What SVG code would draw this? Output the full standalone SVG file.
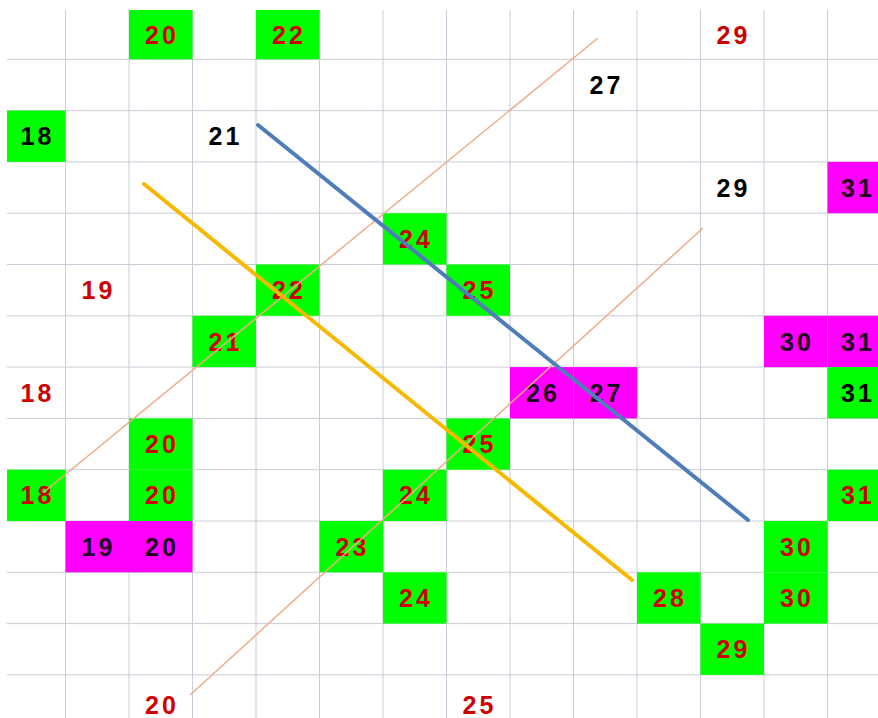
<svg xmlns="http://www.w3.org/2000/svg" width="878" height="718" viewBox="0 0 878 718">
<style>
.grid line{stroke:#c9ccd8;stroke-width:1}
.g{fill:#00ff00}
.m{fill:#ff00ff}
text{font-family:"Liberation Sans",Arial,sans-serif;font-size:25px;font-weight:bold;letter-spacing:3px;text-anchor:middle}
.r{fill:#d00000}
.k{fill:#000000}
.p{fill:#1e001e}
.blue{stroke:#4f7dba;stroke-width:4;stroke-linecap:round;fill:none}
.gold{stroke:#f7b900;stroke-width:4;stroke-linecap:round;fill:none}
.thin{stroke:#eeac84;stroke-width:1.5;fill:none}
</style>
<rect width="878" height="718" fill="#ffffff"/>
<g class="grid">
<line x1="65.5" y1="10" x2="65.5" y2="718"/>
<line x1="129" y1="10" x2="129" y2="718"/>
<line x1="192.5" y1="10" x2="192.5" y2="718"/>
<line x1="256" y1="10" x2="256" y2="718"/>
<line x1="319.5" y1="10" x2="319.5" y2="718"/>
<line x1="383" y1="10" x2="383" y2="718"/>
<line x1="446.5" y1="10" x2="446.5" y2="718"/>
<line x1="510" y1="10" x2="510" y2="718"/>
<line x1="573.5" y1="10" x2="573.5" y2="718"/>
<line x1="637" y1="10" x2="637" y2="718"/>
<line x1="700.5" y1="10" x2="700.5" y2="718"/>
<line x1="764" y1="10" x2="764" y2="718"/>
<line x1="827.5" y1="10" x2="827.5" y2="718"/>
<line x1="7" y1="59.3" x2="878" y2="59.3"/>
<line x1="7" y1="110.6" x2="878" y2="110.6"/>
<line x1="7" y1="161.9" x2="878" y2="161.9"/>
<line x1="7" y1="213.2" x2="878" y2="213.2"/>
<line x1="7" y1="264.5" x2="878" y2="264.5"/>
<line x1="7" y1="315.8" x2="878" y2="315.8"/>
<line x1="7" y1="367.1" x2="878" y2="367.1"/>
<line x1="7" y1="418.4" x2="878" y2="418.4"/>
<line x1="7" y1="469.7" x2="878" y2="469.7"/>
<line x1="7" y1="521" x2="878" y2="521"/>
<line x1="7" y1="572.3" x2="878" y2="572.3"/>
<line x1="7" y1="623.6" x2="878" y2="623.6"/>
<line x1="7" y1="674.9" x2="878" y2="674.9"/>
</g>
<g id="c-r0-c2"><rect class="g" x="129" y="10" width="63.5" height="49.3"/><text class="r" x="162" y="44">20</text></g>
<g id="c-r0-c4"><rect class="g" x="256" y="10" width="63.5" height="49.3"/><text class="r" x="289" y="44">22</text></g>
<g id="c-r0-c11"><text class="r" x="733.5" y="44">29</text></g>
<g id="c-r1-c9"><text class="k" x="606.5" y="94">27</text></g>
<g id="c-r2-c0"><rect class="g" x="7" y="110.6" width="58.5" height="51.3"/><text class="k" x="37.5" y="145.3">18</text></g>
<g id="c-r2-c3"><text class="k" x="225.5" y="145.3">21</text></g>
<g id="c-r3-c11"><text class="k" x="733.5" y="196.6">29</text></g>
<g id="c-r3-c13"><rect class="m" x="827.5" y="161.9" width="51" height="51.3"/><text class="p" x="858" y="196.6">31</text></g>
<g id="c-r4-c6"><rect class="g" x="383" y="213.2" width="63.5" height="51.3"/><text class="r" x="416" y="247.9">24</text></g>
<g id="c-r5-c1"><text class="r" x="98.5" y="299.2">19</text></g>
<g id="c-r5-c4"><rect class="g" x="256" y="264.5" width="63.5" height="51.3"/><text class="r" x="289" y="299.2">22</text></g>
<g id="c-r5-c7"><rect class="g" x="446.5" y="264.5" width="63.5" height="51.3"/><text class="r" x="479.5" y="299.2">25</text></g>
<g id="c-r6-c3"><rect class="g" x="192.5" y="315.8" width="63.5" height="51.3"/><text class="r" x="225.5" y="350.5">21</text></g>
<g id="c-r6-c12"><rect class="m" x="764" y="315.8" width="63.5" height="51.3"/><text class="p" x="797" y="350.5">30</text></g>
<g id="c-r6-c13"><rect class="m" x="827.5" y="315.8" width="51" height="51.3"/><text class="p" x="858" y="350.5">31</text></g>
<g id="c-r7-c0"><text class="r" x="37.5" y="401.8">18</text></g>
<g id="c-r7-c8"><rect class="m" x="510" y="367.1" width="63.5" height="51.3"/><text class="p" x="543" y="401.8">26</text></g>
<g id="c-r7-c9"><rect class="m" x="573.5" y="367.1" width="63.5" height="51.3"/><text class="p" x="606.5" y="401.8">27</text></g>
<g id="c-r7-c13"><rect class="g" x="827.5" y="367.1" width="51" height="51.3"/><text class="k" x="858" y="401.8">31</text></g>
<g id="c-r8-c2"><rect class="g" x="129" y="418.4" width="63.5" height="51.3"/><text class="r" x="162" y="453.1">20</text></g>
<g id="c-r8-c7"><rect class="g" x="446.5" y="418.4" width="63.5" height="51.3"/><text class="r" x="479.5" y="453.1">25</text></g>
<g id="c-r9-c0"><rect class="g" x="7" y="469.7" width="58.5" height="51.3"/><text class="r" x="37.5" y="504.4">18</text></g>
<g id="c-r9-c2"><rect class="g" x="129" y="469.7" width="63.5" height="51.3"/><text class="r" x="162" y="504.4">20</text></g>
<g id="c-r9-c6"><rect class="g" x="383" y="469.7" width="63.5" height="51.3"/><text class="r" x="416" y="504.4">24</text></g>
<g id="c-r9-c13"><rect class="g" x="827.5" y="469.7" width="51" height="51.3"/><text class="r" x="858" y="504.4">31</text></g>
<g id="c-r10-c1"><rect class="m" x="65.5" y="521" width="63.5" height="51.3"/><text class="p" x="98.5" y="555.7">19</text></g>
<g id="c-r10-c2"><rect class="m" x="129" y="521" width="63.5" height="51.3"/><text class="p" x="162" y="555.7">20</text></g>
<g id="c-r10-c5"><rect class="g" x="319.5" y="521" width="63.5" height="51.3"/><text class="r" x="352.5" y="555.7">23</text></g>
<g id="c-r10-c12"><rect class="g" x="764" y="521" width="63.5" height="51.3"/><text class="r" x="797" y="555.7">30</text></g>
<g id="c-r11-c6"><rect class="g" x="383" y="572.3" width="63.5" height="51.3"/><text class="r" x="416" y="607">24</text></g>
<g id="c-r11-c10"><rect class="g" x="637" y="572.3" width="63.5" height="51.3"/><text class="r" x="670" y="607">28</text></g>
<g id="c-r11-c12"><rect class="g" x="764" y="572.3" width="63.5" height="51.3"/><text class="r" x="797" y="607">30</text></g>
<g id="c-r12-c11"><rect class="g" x="700.5" y="623.6" width="63.5" height="51.3"/><text class="r" x="733.5" y="658.3">29</text></g>
<g id="c-r13-c2"><text class="r" x="162" y="713.5">20</text></g>
<g id="c-r13-c7"><text class="r" x="479.5" y="713.5">25</text></g>
<g id="connectors">
<line class="thin" x1="44" y1="492" x2="598" y2="38"/>
<line class="thin" x1="190" y1="695" x2="703" y2="228"/>
<line class="gold" x1="144" y1="184" x2="632" y2="580"/>
<line class="blue" x1="258" y1="125" x2="748" y2="520"/>
</g>
</svg>
